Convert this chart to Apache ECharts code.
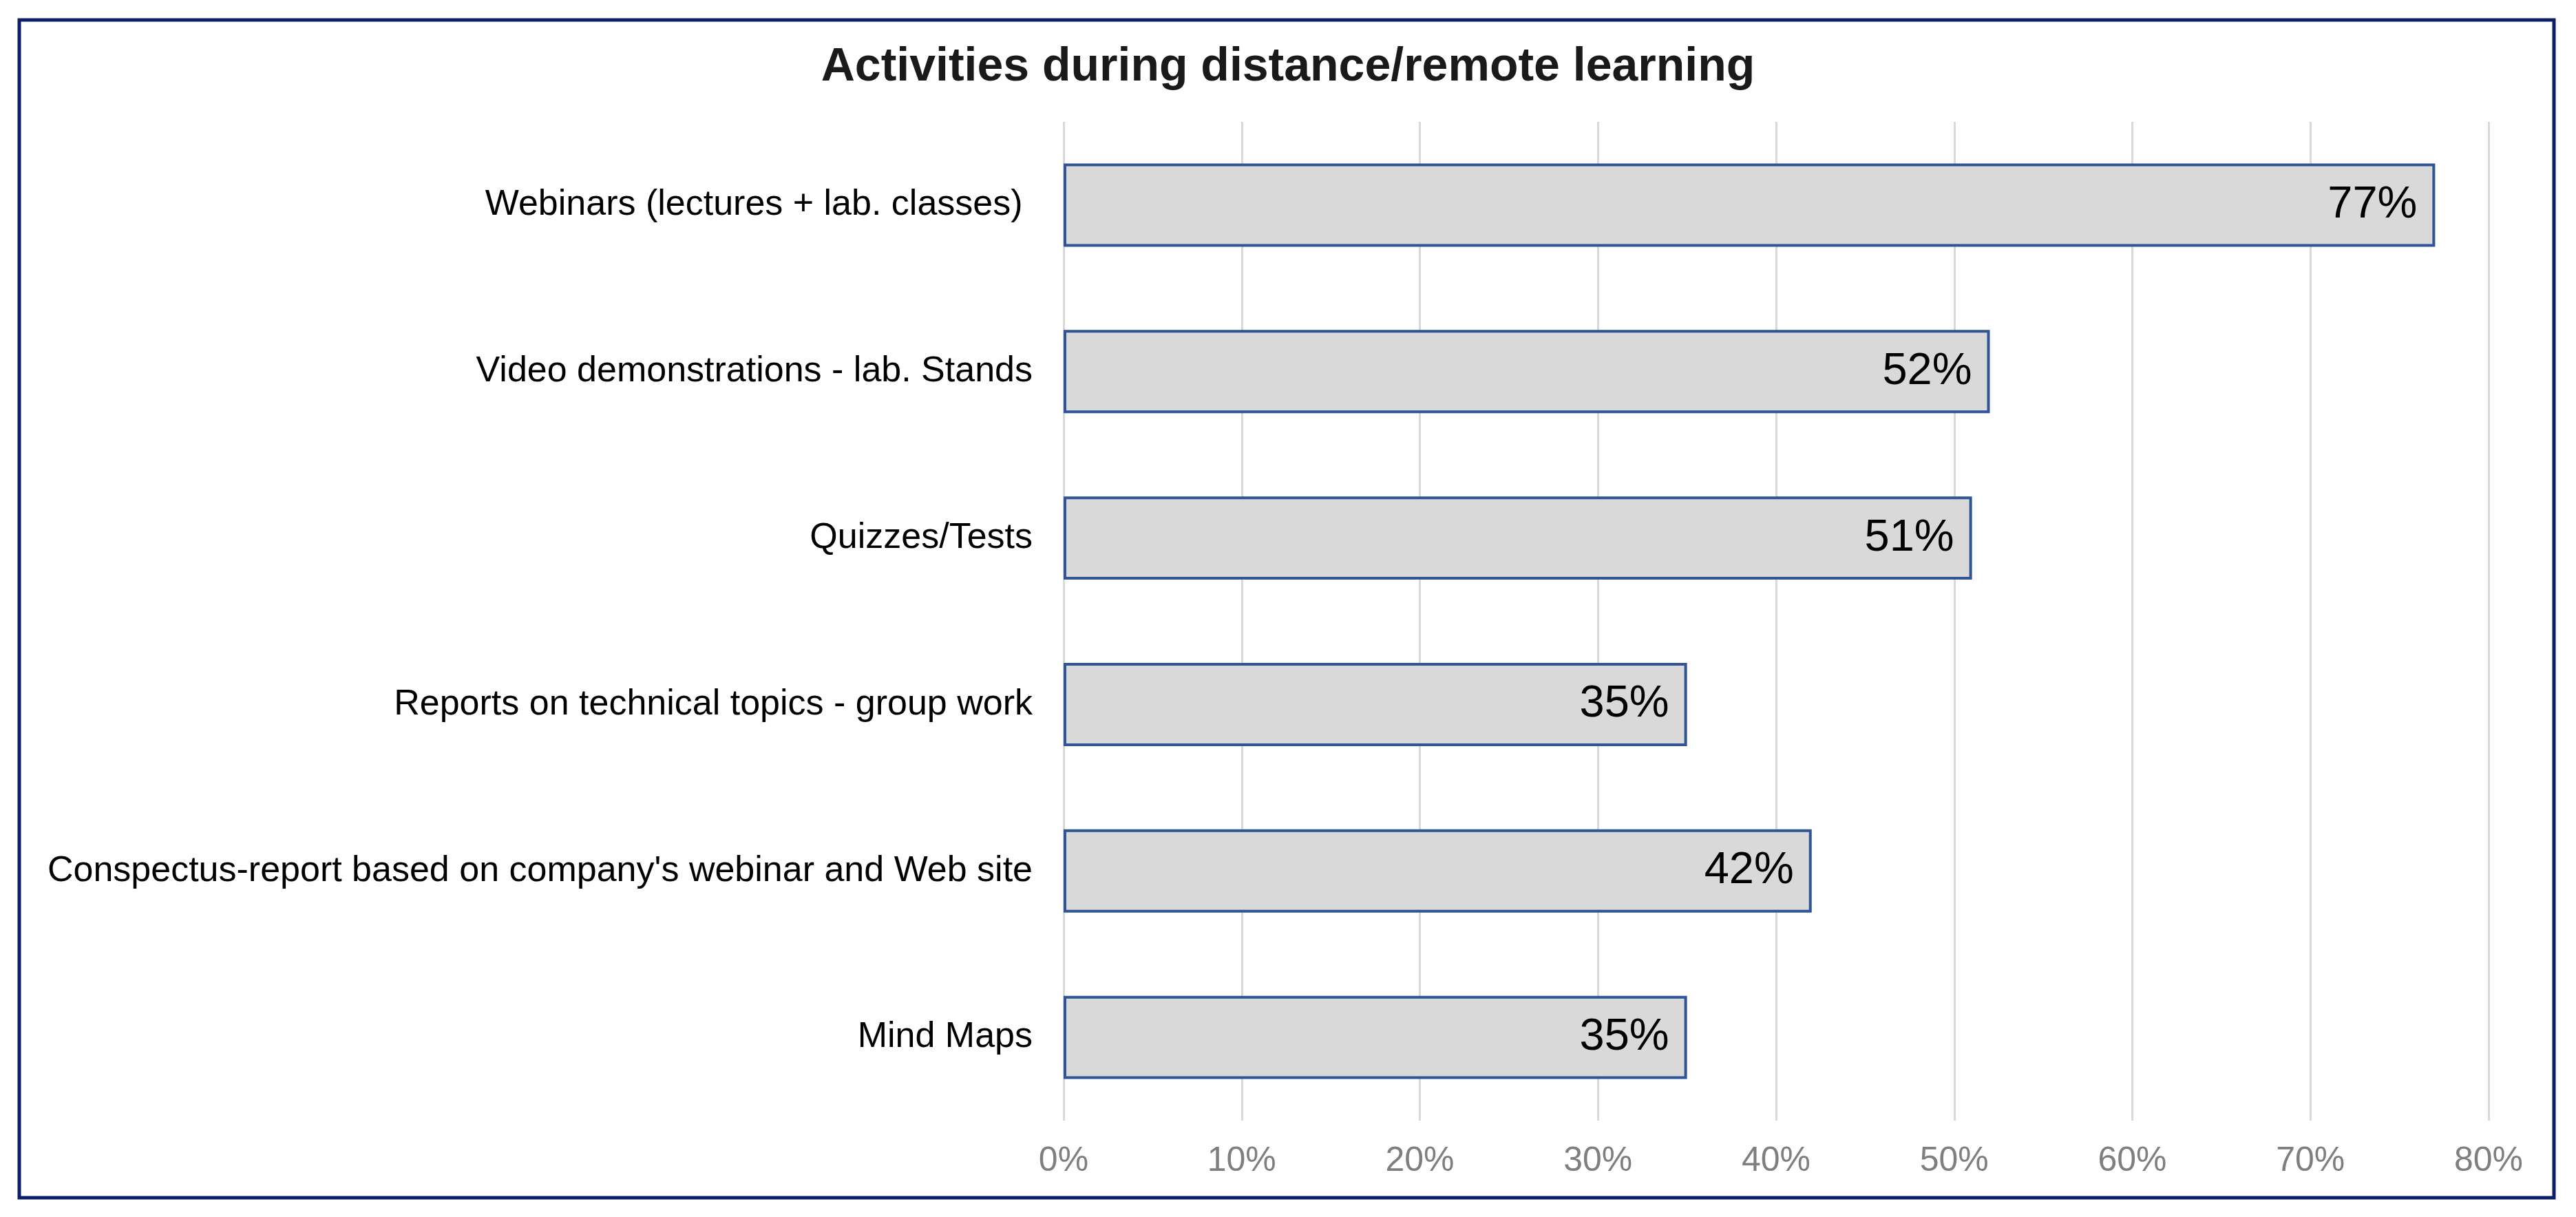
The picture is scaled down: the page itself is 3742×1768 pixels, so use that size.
<!DOCTYPE html>
<html>
<head>
<meta charset="utf-8">
<script src="https://cdn.jsdelivr.net/npm/echarts@6/dist/echarts.min.js"></script>
<style>
html,body{margin:0;padding:0;background:#fff;}
#chart{width:3742px;height:1768px;}
</style>
</head>
<body>
<div id="chart"></div>
<script>
const categories = [
  "Webinars (lectures + lab. classes) ",
  "Video demonstrations - lab. Stands",
  "Quizzes/Tests",
  "Reports on technical topics - group work",
  "Conspectus-report based on company's webinar and Web site",
  "Mind Maps"
];
const values = [77, 52, 51, 35, 42, 35];
const titleText = "Activities during distance/remote learning";
const axisMax = 80;
const axisStep = 10;

const chart = echarts.init(document.getElementById('chart'));
chart.setOption({
  backgroundColor: '#ffffff',
  animation: false,
  title: {
    text: titleText,
    left: 'center',
    top: 64,
    padding: 0,
    textStyle: {fontFamily: 'Liberation Sans, Arial', fontWeight: 'bold', fontSize: 68, color: '#1a1a1a'}
  },
  graphic: [{
    type: 'rect',
    shape: {x: 28, y: 29, width: 3682, height: 1711},
    style: {fill: 'none', stroke: '#0c1f66', lineWidth: 5},
    silent: true
  }],
  grid: {left: 1545, right: 127, top: 177, bottom: 140, containLabel: false},
  xAxis: {
    type: 'value',
    min: 0,
    max: axisMax,
    interval: axisStep,
    axisLine: {show: false},
    axisTick: {show: false},
    splitLine: {show: true, lineStyle: {color: '#d9d9d9', width: 3}},
    axisLabel: {
      formatter: '{value}%',
      margin: 34,
      fontFamily: 'Liberation Sans, Arial',
      fontSize: 50,
      color: '#7f7f7f'
    }
  },
  yAxis: {
    type: 'category',
    data: categories,
    inverse: true,
    axisLine: {show: false},
    axisTick: {show: false},
    axisLabel: {
      margin: 45,
      fontFamily: 'Liberation Sans, Arial',
      fontSize: 52,
      color: '#000000'
    }
  },
  series: [{
    type: 'bar',
    data: values,
    barWidth: '50%',
    itemStyle: {color: '#d9d9d9', borderColor: '#2f5597', borderWidth: 4},
    label: {
      show: true,
      position: 'insideRight',
      distance: 26,
      formatter: '{c}%',
      fontFamily: 'Liberation Sans, Arial',
      fontSize: 65,
      color: '#000000'
    }
  }]
});
</script>
</body>
</html>
